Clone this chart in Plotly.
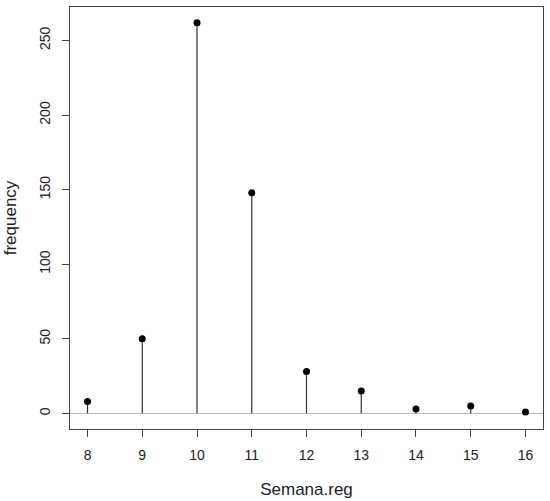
import plotly.graph_objects as go

semana = [8, 9, 10, 11, 12, 13, 14, 15, 16]
frequency = [8, 50, 262, 148, 28, 15, 3, 5, 1]
x_ticks = [8, 9, 10, 11, 12, 13, 14, 15, 16]
y_ticks = [0, 50, 100, 150, 200, 250]

font = dict(family="Liberation Sans, Arial", size=14, color="#222222")

fig = go.Figure()

# stems, built from the data (None breaks between stems)
stem_x, stem_y = [], []
for s, f in zip(semana, frequency):
    stem_x += [s, s, None]
    stem_y += [0, f, None]
fig.add_trace(go.Scatter(x=stem_x, y=stem_y, mode="lines",
                         line=dict(color="#333333", width=1.2),
                         hoverinfo="skip", showlegend=False))

fig.add_trace(go.Scatter(x=semana, y=frequency, mode="markers",
                         marker=dict(color="black", size=7),
                         showlegend=False))

ymax = max(frequency)
fig.update_xaxes(range=[semana[0] - 0.04 * (semana[-1] - semana[0]),
                        semana[-1] + 0.04 * (semana[-1] - semana[0])],
                 tickvals=x_ticks, ticks="outside", ticklen=7, tickcolor="#444",
                 ticklabelstandoff=6, automargin=False,
                 showline=True, linecolor="#444", linewidth=1, mirror=True,
                 showgrid=False, zeroline=False,
                 title=dict(text="Semana.reg", standoff=21), tickfont=font)
fig.update_yaxes(range=[-0.04 * ymax, 1.04 * ymax],
                 tickvals=y_ticks, ticks="outside", ticklen=7, tickcolor="#444",
                 tickangle=-90, ticklabelstandoff=6, automargin=False,
                 showline=True, linecolor="#444", linewidth=1, mirror=True,
                 showgrid=False, zeroline=True, zerolinecolor="#bbbbbb", zerolinewidth=1,
                 title=dict(text="frequency", standoff=16), tickfont=font)

fig.update_layout(width=550, height=501, margin=dict(l=70, r=7, t=7, b=72),
                  plot_bgcolor="white", paper_bgcolor="white", font=font)

# drop the page's default body margin so the figure sits at the window origin
fig.write_html("out.html", config={"displayModeBar": False},
               post_script="document.body.style.margin='0';document.body.style.overflow='hidden';")
